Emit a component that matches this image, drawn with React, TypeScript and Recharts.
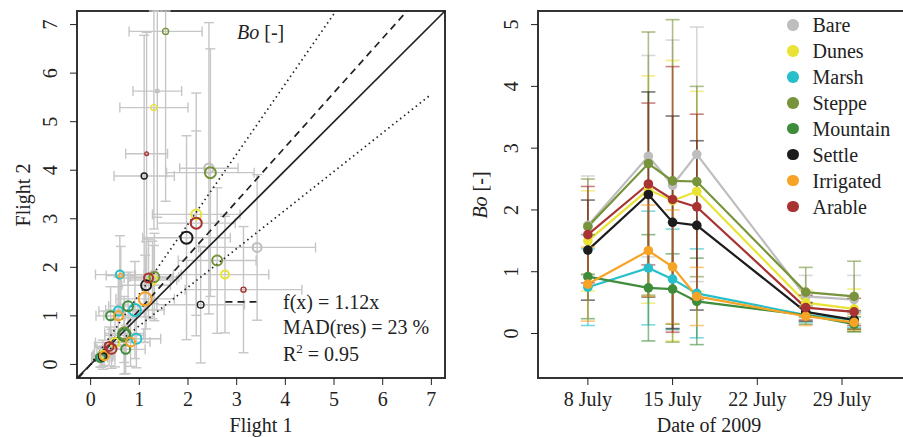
import React from 'react';
import {
  ScatterChart, Scatter, LineChart, Line,
  XAxis, YAxis, ErrorBar, ReferenceLine, ReferenceArea,
} from 'recharts';

const FONT = '"Liberation Serif", "Times New Roman", serif';
const INK = '#222';

const CLASSES = ['Bare', 'Dunes', 'Marsh', 'Steppe', 'Mountain', 'Settle', 'Irrigated', 'Arable'];
const COLORS = ['#bebebe', '#e9e336', '#27bfca', '#77933b', '#3f8d3b', '#1c1c1c', '#f6a326', '#a93232'];

// left panel points: [flight 1, flight 2, sd flight 1, sd flight 2, weight]
const BARE_PTS = [
  [1.37, 5.63, 0.5, 2.6, 0.3],
  [2.43, 4.04, 0.6, 3.0, 3.2],
  [3.42, 2.41, 1.2, 1.5, 3.0],
  [1.3, 1.85, 0.4, 0.6, 2.5],
];
const DUNES_PTS = [
  [1.3, 5.29, 0.7, 2.5, 1.5],
  [2.17, 3.09, 0.9, 2.5, 3.5],
  [2.76, 1.85, 0.9, 1.2, 2.5],
  [1.27, 1.74, 0.5, 0.8, 3.0],
  [0.5, 0.45, 0.4, 0.5, 3.0],
  [0.25, 0.2, 0.2, 0.3, 2.5],
];
const MARSH_PTS = [
  [0.6, 1.85, 0.5, 0.8, 2.5],
  [0.91, 1.12, 0.6, 1.0, 4.5],
  [0.57, 1.1, 0.4, 0.7, 3.0],
  [0.94, 0.53, 0.5, 0.6, 3.5],
  [0.22, 0.15, 0.2, 0.2, 2.5],
];
const STEPPE_PTS = [
  [1.54, 6.86, 0.75, 3.5, 1.5],
  [2.46, 3.95, 0.9, 2.55, 4.0],
  [2.6, 2.14, 0.8, 1.5, 3.5],
  [1.31, 1.8, 0.5, 0.9, 3.5],
  [0.69, 0.64, 0.4, 0.6, 4.5],
];
const MOUNTAIN_PTS = [
  [0.77, 1.2, 0.4, 0.7, 3.5],
  [0.41, 1.0, 0.3, 0.6, 3.0],
  [0.69, 0.6, 0.4, 0.8, 4.5],
  [0.72, 0.31, 0.4, 0.5, 3.0],
  [0.2, 0.14, 0.15, 0.2, 3.0],
];
const SETTLE_PTS = [
  [1.1, 3.88, 0.62, 2.9, 1.5],
  [1.97, 2.61, 0.9, 2.1, 4.5],
  [1.14, 1.63, 0.5, 0.9, 3.5],
  [2.26, 1.23, 0.9, 1.2, 1.8],
  [0.25, 0.16, 0.2, 0.2, 2.5],
];
const IRRIGATED_PTS = [
  [0.62, 1.83, 0.3, 0.6, 0.5],
  [1.12, 1.35, 0.6, 0.9, 5.0],
  [0.57, 1.0, 0.3, 0.6, 3.0],
  [0.82, 0.46, 0.4, 0.5, 3.0],
  [0.28, 0.18, 0.2, 0.2, 3.0],
];
const ARABLE_PTS = [
  [1.15, 4.34, 0.43, 2.5, 0.3],
  [2.17, 2.91, 0.8, 1.9, 4.0],
  [3.14, 1.54, 1.2, 1.3, 1.0],
  [1.19, 1.78, 0.5, 0.8, 3.0],
  [0.43, 0.32, 0.3, 0.4, 3.5],
  [0.38, 0.37, 0.3, 0.4, 3.0],
];
const CLASS_PTS = [BARE_PTS, DUNES_PTS, MARSH_PTS, STEPPE_PTS, MOUNTAIN_PTS, SETTLE_PTS, IRRIGATED_PTS, ARABLE_PTS];

const FIT_SLOPE = 1.12;
const BAND = 0.29;
const LIM = [-0.28, 7.28];
const FLIGHT_TICKS = [0, 1, 2, 3, 4, 5, 6, 7];

// right panel: Bowen ratio per date (day of July 2009), mean and sd
const DAYS = [8, 13, 15, 17, 26, 30];
const DATE_TICKS = [8, 15, 22, 29];
const BO_TICKS = [0, 1, 2, 3, 4, 5];

const BARE_BO = [1.75, 2.87, 2.4, 2.9, 0.6, 0.55];
const DUNES_BO = [1.5, 2.33, 2.15, 2.3, 0.5, 0.4];
const MARSH_BO = [0.75, 1.06, 0.88, 0.65, 0.3, 0.22];
const STEPPE_BO = [1.73, 2.75, 2.47, 2.46, 0.67, 0.6];
const MOUNTAIN_BO = [0.92, 0.74, 0.72, 0.52, 0.3, 0.15];
const SETTLE_BO = [1.35, 2.25, 1.8, 1.75, 0.35, 0.22];
const IRRIGATED_BO = [0.8, 1.34, 1.08, 0.6, 0.28, 0.18];
const ARABLE_BO = [1.6, 2.42, 2.17, 2.05, 0.42, 0.35];

const BARE_SD = [0.8, 1.63, 2.35, 2.06, 0.34, 0.39];
const DUNES_SD = [0.81, 1.84, 2.27, 1.62, 0.2, 0.32];
const MARSH_SD = [0.62, 0.92, 0.81, 0.72, 0.12, 0.12];
const STEPPE_SD = [0.77, 2.13, 2.61, 1.54, 0.4, 0.57];
const MOUNTAIN_SD = [0.68, 0.86, 0.57, 0.7, 0.15, 0.12];
const SETTLE_SD = [0.81, 1.66, 1.72, 1.37, 0.15, 0.15];
const IRRIGATED_SD = [0.6, 0.74, 0.92, 0.47, 0.15, 0.13];
const ARABLE_SD = [0.78, 1.31, 2.15, 1.5, 0.2, 0.22];

const BO_MEANS = [BARE_BO, DUNES_BO, MARSH_BO, STEPPE_BO, MOUNTAIN_BO, SETTLE_BO, IRRIGATED_BO, ARABLE_BO];
const BO_SDS = [BARE_SD, DUNES_SD, MARSH_SD, STEPPE_SD, MOUNTAIN_SD, SETTLE_SD, IRRIGATED_SD, ARABLE_SD];

const timeRows = DAYS.map((day, i) => {
  const row: Record<string, number> = { day };
  CLASSES.forEach((c, k) => {
    row[c] = BO_MEANS[k][i];
    row[`${c}_sd`] = BO_SDS[k][i];
  });
  return row;
});

// error bars are cut at the plot frame, like R does
const clipErr = (v: number, e: number) => [Math.min(e, v - LIM[0]), Math.min(e, LIM[1] - v)];
const toPts = (pts: number[][]) => pts.map(p => ({
  x: p[0], y: p[1], ex: clipErr(p[0], p[2]), ey: clipErr(p[1], p[3]), w: p[4],
}));
const allPts = CLASS_PTS.flatMap(toPts);

const tickFont = { fill: INK, fontSize: 20, fontFamily: FONT };

function RotTick(props: any) {
  const { x, y, payload } = props;
  return (
    <text x={x} y={y} transform={`rotate(-90 ${x} ${y})`} textAnchor="middle"
      fill={INK} fontSize={20} fontFamily={FONT}>
      {payload.value}
    </text>
  );
}

const txt: React.CSSProperties = {
  position: 'absolute', fontFamily: FONT, fontSize: 20, lineHeight: '20px',
  color: INK, whiteSpace: 'nowrap',
};

export default function App() {
  const yTop = LIM[1];
  return (
    <div style={{ position: 'absolute', left: 0, top: 0, width: 903, height: 437, overflow: 'hidden', background: '#fff' }}>
      {/* left: flight 1 vs flight 2 */}
      <div style={{ position: 'absolute', left: 0, top: 0 }}>
        <ScatterChart width={460} height={437} margin={{ top: 11, right: 15, bottom: 0, left: 0 }}>
          <XAxis type="number" dataKey="x" domain={LIM} ticks={FLIGHT_TICKS} allowDataOverflow
            axisLine={false} tickLine={{ stroke: INK }} tickSize={7} tickMargin={7} height={59} tick={tickFont} />
          <YAxis type="number" dataKey="y" domain={LIM} ticks={FLIGHT_TICKS} allowDataOverflow
            axisLine={false} tickLine={{ stroke: INK }} tickSize={7} tickMargin={13} width={77} tick={<RotTick />} />
          <Scatter data={allPts} shape={() => <g />} isAnimationActive={false}>
            <ErrorBar dataKey="ex" direction="x" stroke="#c6c6c6" strokeWidth={1.4} width={5} isAnimationActive={false} />
            <ErrorBar dataKey="ey" direction="y" stroke="#c6c6c6" strokeWidth={1.4} width={5} isAnimationActive={false} />
          </Scatter>
          <ReferenceLine segment={[{ x: LIM[0], y: LIM[0] }, { x: LIM[1], y: LIM[1] }]} stroke={INK} strokeWidth={1.7} ifOverflow="visible" />
          <ReferenceLine segment={[{ x: LIM[0] / FIT_SLOPE, y: LIM[0] }, { x: yTop / FIT_SLOPE, y: yTop }]}
            stroke={INK} strokeWidth={1.7} strokeDasharray="7 5" ifOverflow="visible" />
          <ReferenceLine segment={[{ x: 0, y: 0 }, { x: yTop / (FIT_SLOPE * (1 + BAND)), y: yTop }]}
            stroke={INK} strokeWidth={1.7} strokeDasharray="1.5 3.5" ifOverflow="visible" />
          <ReferenceLine segment={[{ x: 0, y: 0 }, { x: 7, y: 7 * FIT_SLOPE * (1 - BAND) }]}
            stroke={INK} strokeWidth={1.7} strokeDasharray="1.5 3.5" ifOverflow="visible" />
          <ReferenceLine segment={[{ x: 2.77, y: 1.29 }, { x: 3.43, y: 1.29 }]}
            stroke={INK} strokeWidth={1.7} strokeDasharray="7 5" ifOverflow="visible" />
          {CLASS_PTS.map((pts, k) => (
            <Scatter key={CLASSES[k]} name={CLASSES[k]} data={toPts(pts)} isAnimationActive={false}
              shape={(p: any) => (
                <circle cx={p.cx} cy={p.cy} r={1.5 + p.payload.w} fill="none"
                  stroke={COLORS[k]} strokeWidth={p.payload.w > 2 ? 2 : 1.4} />
              )} />
          ))}
          <ReferenceArea x1={LIM[0]} x2={LIM[1]} y1={LIM[0]} y2={LIM[1]} fill="none" stroke="#333" strokeWidth={2} ifOverflow="visible" />
        </ScatterChart>
      </div>

      {/* right: Bo over time */}
      <div style={{ position: 'absolute', left: 460, top: 0 }}>
        <LineChart width={460} height={437} data={timeRows} margin={{ top: 11, right: 16, bottom: 0, left: 0 }}>
          <XAxis type="number" dataKey="day" domain={[3.88, 34.12]} ticks={DATE_TICKS} allowDataOverflow
            tickFormatter={(d: number) => `${d} July`}
            axisLine={false} tickLine={{ stroke: INK }} tickSize={7} tickMargin={7} height={59} tick={tickFont} />
          <YAxis type="number" domain={[-0.72, 5.22]} ticks={BO_TICKS} allowDataOverflow
            axisLine={false} tickLine={{ stroke: INK }} tickSize={7} tickMargin={13} width={78} tick={<RotTick />} />
          {CLASSES.map((c, k) => (
            <Line key={c} dataKey={c} type="linear" stroke={COLORS[k]} strokeWidth={2.2}
              dot={{ r: 4.8, fill: COLORS[k], stroke: COLORS[k], strokeWidth: 0 }} activeDot={false}
              isAnimationActive={false}>
              <ErrorBar dataKey={`${c}_sd`} direction="y" stroke={COLORS[k]} strokeOpacity={0.6}
                strokeWidth={1.6} width={7} isAnimationActive={false} />
            </Line>
          ))}
          <ReferenceArea x1={3.88} x2={34.12} y1={-0.72} y2={5.22} fill="none" stroke="#333" strokeWidth={2} ifOverflow="visible" />
        </LineChart>
      </div>

      {/* axis titles and notes */}
      <div style={{ ...txt, left: 161, top: 415, width: 200, textAlign: 'center' }}>Flight 1</div>
      <div style={{ ...txt, left: 23, top: 195, transform: 'translate(-50%, -50%) rotate(-90deg)' }}>Flight 2</div>
      <div style={{ ...txt, left: 237, top: 22 }}><i>Bo</i> [-]</div>
      <div style={{ ...txt, left: 283, top: 292 }}>f(x) = 1.12x</div>
      <div style={{ ...txt, left: 283, top: 317 }}>MAD(res) = 23 %</div>
      <div style={{ ...txt, left: 283, top: 344 }}>R<sup style={{ fontSize: 13, lineHeight: 0 }}>2</sup> = 0.95</div>

      <div style={{ ...txt, left: 609, top: 415, width: 200, textAlign: 'center' }}>Date of 2009</div>
      <div style={{ ...txt, left: 480, top: 195, transform: 'translate(-50%, -50%) rotate(-90deg)' }}><i>Bo</i> [-]</div>

      <div style={{ position: 'absolute', left: 787, top: 12 }}>
        {CLASSES.map((c, k) => (
          <div key={c} style={{ display: 'flex', alignItems: 'center', height: 25.95 }}>
            <span style={{ width: 11.5, height: 11.5, borderRadius: '50%', background: COLORS[k], marginRight: 14 }} />
            <span style={{ fontFamily: FONT, fontSize: 20, lineHeight: '20px', color: INK }}>{c}</span>
          </div>
        ))}
      </div>
    </div>
  );
}
